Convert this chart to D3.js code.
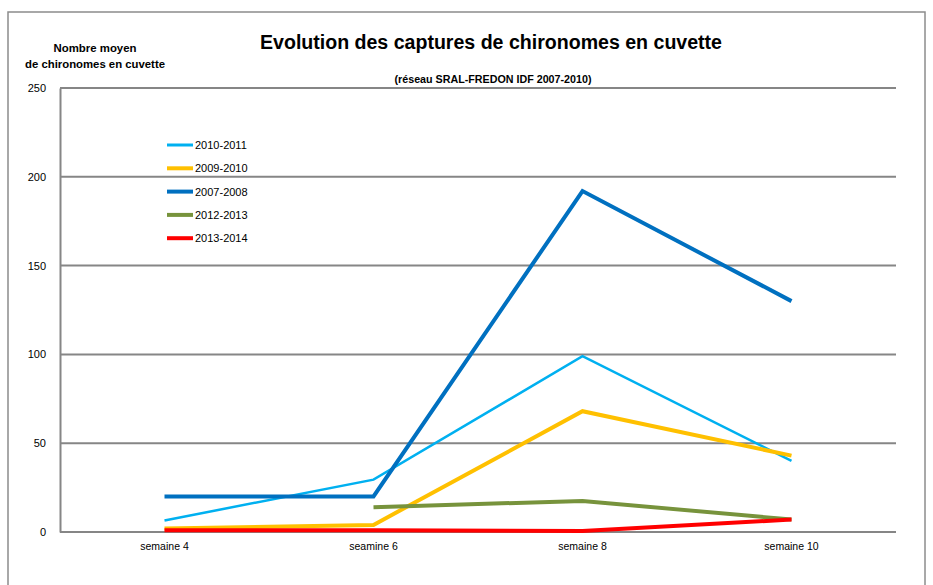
<!DOCTYPE html>
<html><head><meta charset="utf-8">
<script src="https://cdn.jsdelivr.net/npm/d3@7"></script>
<style>body{margin:0;background:#fff}svg{display:block}text{font-family:"Liberation Sans",Arial,sans-serif}</style>
</head><body>
<script>
const categories = ["semaine 4", "seamine 6", "semaine 8", "semaine 10"];
const yTicks = [0, 50, 100, 150, 200, 250];
const seriesNames = ["2010-2011", "2009-2010", "2007-2008", "2012-2013", "2013-2014"];
const seriesColors = ["#00B0F0", "#FFC000", "#0070C0", "#77933C", "#FF0000"];
const seriesWidths = [2.5, 4, 4, 4, 4];
const v2010_2011 = [6.5, 29.5, 99, 40];
const v2009_2010 = [2, 4, 68, 43];
const v2007_2008 = [20, 20, 192, 130];
const v2012_2013 = [null, 14, 17.5, 7];
const v2013_2014 = [1, 1, 0.5, 7];
const seriesValues = [v2010_2011, v2009_2010, v2007_2008, v2012_2013, v2013_2014];
// draw order (back to front)
const drawOrder = [0, 1, 2, 3, 4];

const W = 933, H = 585;
const svg = d3.select("body").append("svg").attr("width", W).attr("height", H);

svg.append("rect").attr("x", 8).attr("y", 12).attr("width", 917).attr("height", 590)
  .attr("fill", "#fff").attr("stroke", "#8c8c8c").attr("stroke-width", 1.5);

const m = {left: 60, right: 896, top: 88, bottom: 532};
const x = d3.scaleBand().domain(categories).range([m.left, m.right]);
const y = d3.scaleLinear().domain([0, 250]).range([m.bottom, m.top]);

// gridlines
svg.append("g").selectAll("line").data(yTicks).join("line")
  .attr("x1", m.left).attr("x2", m.right)
  .attr("y1", d => y(d)).attr("y2", d => y(d))
  .attr("stroke", "#868686").attr("stroke-width", 2);

// y axis
const yAxis = svg.append("g").attr("transform", `translate(${m.left},0)`)
  .call(d3.axisLeft(y).tickValues(yTicks).tickSize(0).tickPadding(14));
yAxis.select(".domain").attr("stroke", "#868686").attr("stroke-width", 2);
yAxis.selectAll("text").attr("font-size", 11).attr("fill", "#000");

// x axis
const xAxis = svg.append("g").attr("transform", `translate(0,${m.bottom})`)
  .call(d3.axisBottom(x).tickSize(0).tickPadding(11));
xAxis.select(".domain").remove();
xAxis.selectAll("text").attr("font-size", 10.5).attr("fill", "#000");

// lines
const line = d3.line().defined(d => d != null)
  .x((d, i) => x(categories[i]) + x.bandwidth() / 2).y(d => y(d));
drawOrder.forEach(k => {
  svg.append("path").datum(seriesValues[k]).attr("d", line)
    .attr("fill", "none").attr("stroke", seriesColors[k])
    .attr("stroke-width", seriesWidths[k]).attr("stroke-linejoin", "miter");
});

// legend
const lg = svg.append("g");
seriesNames.forEach((n, i) => {
  const yy = 145 + i * 23.3;
  lg.append("line").attr("x1", 167).attr("x2", 193).attr("y1", yy).attr("y2", yy)
    .attr("stroke", seriesColors[i]).attr("stroke-width", seriesWidths[i] === 2.5 ? 3 : 4);
  lg.append("text").attr("x", 195).attr("y", yy + 4).attr("font-size", 11).text(n);
});

// titles
svg.append("text").attr("x", 491).attr("y", 49).attr("text-anchor", "middle")
  .attr("font-size", 20).attr("font-weight", "bold").attr("textLength", 462)
  .attr("lengthAdjust", "spacingAndGlyphs").text("Evolution des captures de chironomes en cuvette");
svg.append("text").attr("x", 493).attr("y", 83).attr("text-anchor", "middle")
  .attr("font-size", 10).attr("font-weight", "bold").attr("textLength", 197)
  .attr("lengthAdjust", "spacingAndGlyphs").text("(réseau SRAL-FREDON  IDF 2007-2010)");
svg.append("text").attr("x", 95).attr("y", 52).attr("text-anchor", "middle")
  .attr("font-size", 10.5).attr("font-weight", "bold").attr("textLength", 83)
  .attr("lengthAdjust", "spacingAndGlyphs").text("Nombre moyen");
svg.append("text").attr("x", 95).attr("y", 68).attr("text-anchor", "middle")
  .attr("font-size", 10.5).attr("font-weight", "bold").attr("textLength", 140)
  .attr("lengthAdjust", "spacingAndGlyphs").text("de chironomes  en cuvette");
</script>
</body></html>
